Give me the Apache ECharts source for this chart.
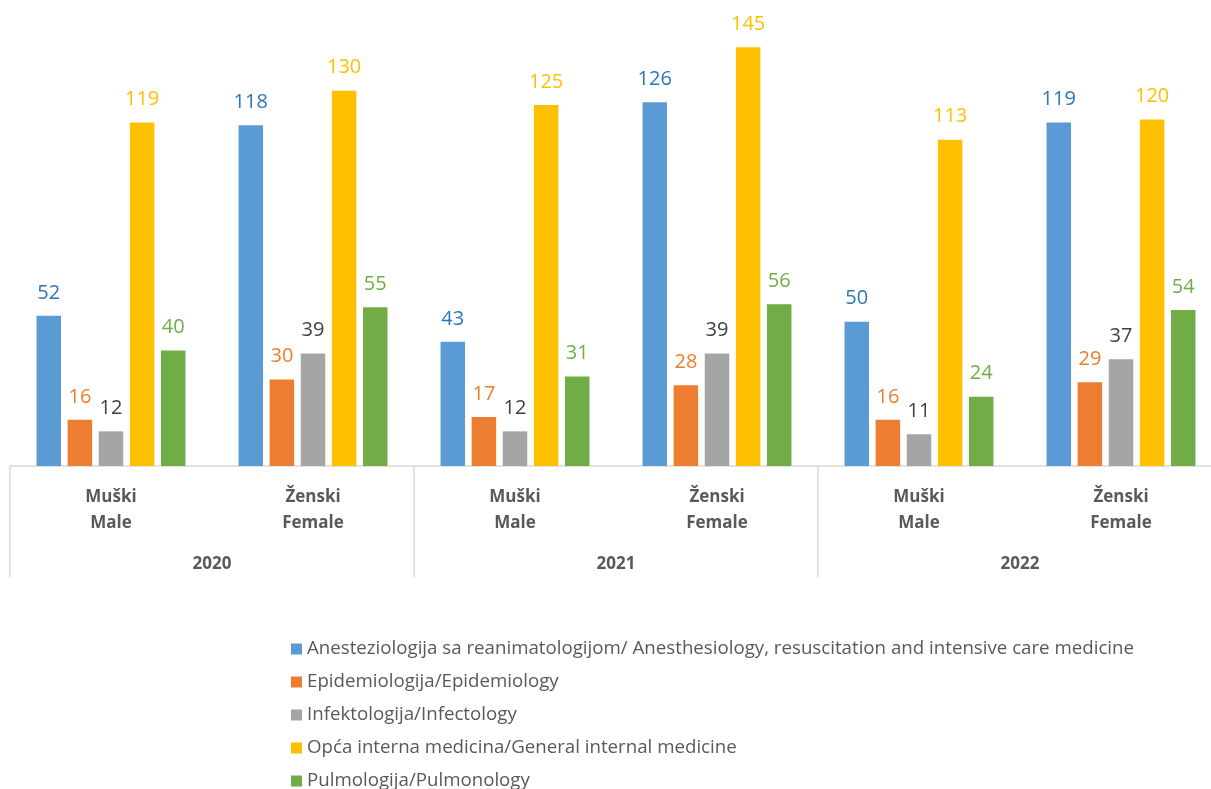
<!DOCTYPE html>
<html>
<head>
<meta charset="utf-8">
<script src="https://cdn.jsdelivr.net/npm/echarts@6/dist/echarts.min.js"></script>
<style>
  html, body { margin: 0; padding: 0; background: #fff; }
  #chart { width: 1211px; height: 789px; }
</style>
</head>
<body>
<div id="chart"></div>
<script>
// kategorije (spol) i godine
const categories = ['Muški\nMale', 'Ženski\nFemale', 'Muški\nMale', 'Ženski\nFemale', 'Muški\nMale', 'Ženski\nFemale']
const years = ['2020', '2021', '2022']

const seriesNames = [
  'Anesteziologija sa reanimatologijom/ Anesthesiology, resuscitation and intensive care medicine',
  'Epidemiologija/Epidemiology',
  'Infektologija/Infectology',
  'Opća interna medicina/General internal medicine',
  'Pulmologija/Pulmonology'
]
const anesteziologija = [52, 118, 43, 126, 50, 119]
const epidemiologija = [16, 30, 17, 28, 16, 29]
const infektologija = [12, 39, 12, 39, 11, 37]
const internaMedicina = [119, 130, 125, 145, 113, 120]
const pulmologija = [40, 55, 31, 56, 24, 54]

const seriesData = [anesteziologija, epidemiologija, infektologija, internaMedicina, pulmologija]
const barColors = ['#5b9bd5', '#ed7d31', '#a5a5a5', '#ffc000', '#70ad47']
const labelColors = ['#2e75b6', '#ed7d31', '#404040', '#ffc000', '#70ad47']

const fontFamily = '"Open Sans", "Noto Sans", sans-serif'

const chart = echarts.init(document.getElementById('chart'))

const option = {
  animation: false,
  textStyle: { fontFamily: fontFamily },
  grid: {
    left: 10,
    top: 4,
    width: 1212,
    height: 462,
    outerBoundsMode: 'none'
  },
  legend: {
    orient: 'vertical',
    left: 286,
    top: 634.5,
    height: 170,
    itemWidth: 11,
    itemHeight: 11,
    itemGap: 14,
    icon: 'rect',
    textStyle: { fontSize: 18.7, color: '#595959', fontFamily: fontFamily },
    data: seriesNames
  },
  xAxis: [
    {
      type: 'category',
      data: categories,
      axisTick: { show: false },
      axisLine: { lineStyle: { color: '#d9d9d9', width: 1.5 } },
      axisLabel: {
        interval: 0,
        margin: 18,
        fontSize: 17,
        lineHeight: 26,
        fontWeight: 'bold',
        color: '#595959'
      }
    },
    {
      type: 'category',
      data: years,
      position: 'bottom',
      axisLine: { show: false },
      axisTick: {
        show: true,
        interval: 0,
        length: 111,
        lineStyle: { color: '#d9d9d9', width: 1.5 }
      },
      axisLabel: {
        interval: 0,
        margin: 90,
        fontSize: 17,
        fontWeight: 'bold',
        color: '#595959'
      }
    }
  ],
  yAxis: {
    type: 'value',
    min: 0,
    max: 160,
    show: false,
    splitLine: { show: false }
  },
  series: seriesNames.map((name, i) => ({
    name: name,
    type: 'bar',
    xAxisIndex: 0,
    data: seriesData[i],
    barWidth: 24.5,
    barGap: '27%',
    itemStyle: { color: barColors[i] },
    label: {
      show: true,
      position: 'top',
      distance: 13,
      fontSize: 20,
      color: labelColors[i]
    }
  }))
}

chart.setOption(option)
</script>
</body>
</html>
